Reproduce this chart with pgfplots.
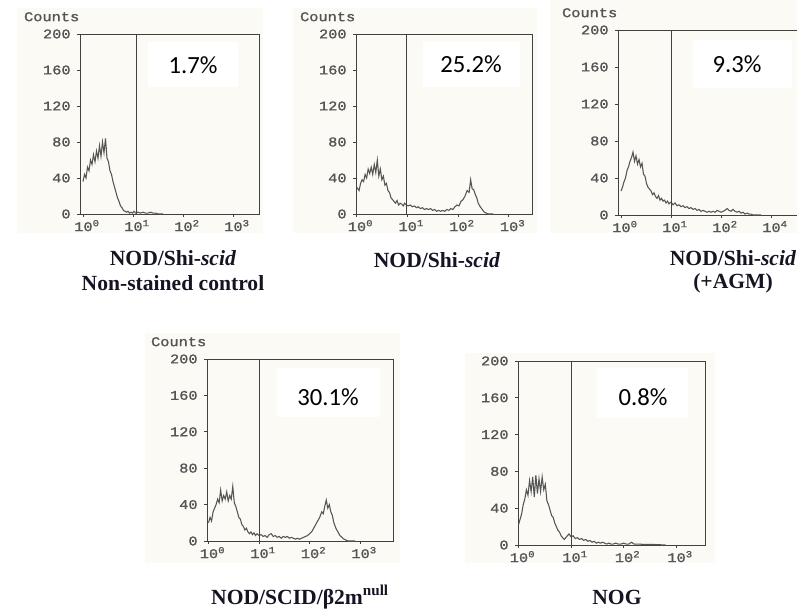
\documentclass[border=0pt]{standalone}
\usepackage{pgfplots}
\pgfplotsset{compat=1.18}
\usepackage{fontspec}
\setmainfont{Liberation Serif}
\newfontfamily\tickfont[FakeStretch=1.15, FakeBold=1.3]{Liberation Mono}
\newfontfamily\pctfont{Carlito}
\definecolor{bgcream}{RGB}{251,250,245}
\definecolor{axisgray}{RGB}{65,65,65}
\definecolor{labelgray}{RGB}{85,85,85}
\definecolor{histgray}{RGB}{85,85,85}
\definecolor{capcol}{RGB}{20,20,35}
\pgfplotsset{
  hist/.style={
    scale only axis, anchor=south west, clip=false,
    ymin=0, ymax=200, ytick={0,40,80,120,160,200},
    yticklabels={0,40,80,120,160,200},
    xtick={0,1,2,3},
    xtick pos=left, ytick pos=left,
    tick align=outside, major tick length=2pt,
    axis line style={draw=axisgray, line width=0.6pt},
    tick style={draw=axisgray, line width=0.5pt},
    ticklabel style={font=\tickfont\fontsize{10}{10}\selectfont, text=labelgray},
    xticklabel style={xshift=3pt, yshift=1pt},
    yticklabel style={xshift=-1.5pt},
  },
  hline/.style={histgray, line width=0.8pt, no markers},
  gate/.style={axisgray, line width=0.6pt, no markers},
}
\newcommand{\counts}{\node[anchor=south east, font=\tickfont\fontsize{10}{10}\selectfont, text=labelgray] at (rel axis cs:0,1) [xshift=3pt, yshift=6pt] {Counts};}
\begin{document}
\begin{tikzpicture}
\path[use as bounding box] (0pt,0pt) rectangle (597.75pt,456.75pt);
% panel backgrounds
\fill[bgcream] (12.75pt,282pt) rectangle (197.25pt,450.75pt);
\fill[bgcream] (219.75pt,282pt) rectangle (402.75pt,450.75pt);
\fill[bgcream] (412.5pt,282pt) rectangle (597.75pt,456.75pt);
\fill[bgcream] (108.75pt,34.5pt) rectangle (300pt,207pt);
\fill[bgcream] (348.75pt,34.5pt) rectangle (536.25pt,192pt);

% ---------- Panel 1 ----------
\begin{axis}[hist, at={(60pt,296.25pt)}, width=134.25pt, height=135pt,
  xmin=-0.06, xmax=3.52,
  xticklabels={10\textsuperscript{0},10\textsuperscript{1},10\textsuperscript{2},10\textsuperscript{3}}]
\addplot[hline] coordinates {(0.00,36)(0.03,44)(0.06,40)(0.09,52)(0.12,48)(0.15,60)(0.18,55)(0.21,66)(0.24,58)(0.27,70)(0.30,62)(0.33,76)(0.36,64)(0.39,80)(0.42,68)(0.45,84)(0.48,62)(0.51,58)(0.54,48)(0.57,44)(0.60,36)(0.63,30)(0.66,24)(0.69,18)(0.72,14)(0.75,9)(0.78,7)(0.81,4)(0.84,3)(0.87,2)(0.90,3)(0.93,1)(0.96,2)(0.99,1)(1.02,3)(1.05,1)(1.10,2)(1.15,1)(1.20,2)(1.25,1)(1.30,1)(1.35,2)(1.40,1)(1.45,1)(1.50,0)(1.60,0)};
\addplot[gate] coordinates {(1.06,0)(1.06,200)};
\counts
\end{axis}

% ---------- Panel 2 ----------
\begin{axis}[hist, at={(267pt,296.25pt)}, width=132pt, height=135pt,
  xmin=-0.01, xmax=3.46,
  xticklabels={10\textsuperscript{0},10\textsuperscript{1},10\textsuperscript{2},10\textsuperscript{3}}]
\addplot[hline] coordinates {(0.00,30)(0.05,26)(0.08,34)(0.11,38)(0.14,36)(0.17,44)(0.20,40)(0.23,50)(0.26,45)(0.29,52)(0.32,44)(0.35,55)(0.38,46)(0.41,60)(0.44,42)(0.47,50)(0.50,38)(0.53,42)(0.56,32)(0.59,34)(0.62,26)(0.65,24)(0.68,18)(0.71,16)(0.74,14)(0.77,12)(0.80,15)(0.83,10)(0.86,12)(0.89,11)(0.92,9)(0.95,12)(0.98,10)(1.02,9)(1.06,10)(1.10,8)(1.14,9)(1.18,7)(1.22,8)(1.26,6)(1.30,7)(1.34,5)(1.38,6)(1.42,5)(1.46,6)(1.50,4)(1.54,5)(1.58,3)(1.62,4)(1.66,3)(1.70,4)(1.74,3)(1.78,5)(1.82,4)(1.86,6)(1.90,5)(1.94,8)(1.98,10)(2.02,9)(2.06,14)(2.10,16)(2.14,20)(2.18,26)(2.22,24)(2.25,38)(2.28,28)(2.31,27)(2.34,22)(2.37,18)(2.40,12)(2.44,8)(2.48,5)(2.52,2)(2.56,1)(2.60,0)(2.70,0)};
\addplot[gate] coordinates {(0.98,0)(0.98,200)};
\counts
\end{axis}

% ---------- Panel 3 ----------
\begin{axis}[hist, at={(463.5pt,295.5pt)}, width=137.25pt, height=138.75pt,
  xmin=-0.06, xmax=3.6,
  xticklabels={10\textsuperscript{0},10\textsuperscript{1},10\textsuperscript{2},10\textsuperscript{4}}]
\addplot[hline] coordinates {(0.00,26)(0.03,30)(0.06,36)(0.09,40)(0.12,48)(0.15,52)(0.18,58)(0.21,62)(0.24,68)(0.27,58)(0.30,64)(0.33,55)(0.36,60)(0.39,52)(0.42,56)(0.45,44)(0.48,42)(0.51,34)(0.54,30)(0.57,28)(0.60,26)(0.63,22)(0.66,24)(0.69,20)(0.72,18)(0.75,21)(0.78,16)(0.81,18)(0.84,15)(0.87,16)(0.90,13)(0.93,15)(0.96,12)(1.00,14)(1.04,11)(1.08,13)(1.12,10)(1.16,11)(1.20,9)(1.24,10)(1.28,8)(1.32,9)(1.36,7)(1.40,8)(1.44,6)(1.48,7)(1.52,5)(1.56,6)(1.60,4)(1.64,5)(1.68,4)(1.72,3)(1.76,4)(1.80,3)(1.84,4)(1.88,3)(1.92,5)(1.96,4)(2.00,3)(2.04,4)(2.08,5)(2.12,7)(2.16,5)(2.20,4)(2.24,6)(2.28,4)(2.32,3)(2.36,4)(2.40,2)(2.44,3)(2.48,1)(2.52,2)(2.56,1)(2.60,1)(2.64,0)(2.80,0)};
\addplot[gate] coordinates {(1.0,0)(1.0,200)};
\counts
\end{axis}

% ---------- Panel 4 ----------
\begin{axis}[hist, at={(155.25pt,51pt)}, width=139.5pt, height=136.5pt,
  xmin=-0.03, xmax=3.65,
  xticklabels={10\textsuperscript{0},10\textsuperscript{1},10\textsuperscript{2},10\textsuperscript{3}}]
\addplot[hline] coordinates {(0.00,20)(0.03,26)(0.06,22)(0.09,32)(0.12,36)(0.15,40)(0.18,46)(0.21,42)(0.24,56)(0.27,44)(0.30,50)(0.33,46)(0.36,54)(0.39,44)(0.42,50)(0.45,46)(0.48,60)(0.51,42)(0.54,38)(0.57,32)(0.60,26)(0.63,24)(0.66,18)(0.69,16)(0.72,12)(0.75,14)(0.78,10)(0.81,8)(0.84,10)(0.87,7)(0.90,9)(0.93,6)(0.96,8)(1.00,6)(1.04,7)(1.08,5)(1.12,6)(1.16,4)(1.20,7)(1.24,8)(1.28,5)(1.32,6)(1.36,4)(1.40,5)(1.44,3)(1.48,5)(1.52,4)(1.56,5)(1.60,3)(1.64,4)(1.68,3)(1.72,2)(1.76,3)(1.80,2)(1.84,3)(1.88,4)(1.92,5)(1.96,6)(2.00,8)(2.04,10)(2.08,14)(2.12,18)(2.16,22)(2.20,26)(2.24,32)(2.27,30)(2.30,38)(2.33,45)(2.36,36)(2.39,40)(2.42,32)(2.45,28)(2.48,20)(2.52,14)(2.56,10)(2.60,6)(2.64,4)(2.68,2)(2.72,1)(2.76,0)(2.90,0)};
\addplot[gate] coordinates {(1.0,0)(1.0,200)};
\counts
\end{axis}

% ---------- Panel 5 ----------
\begin{axis}[hist, at={(388.5pt,48pt)}, width=140.25pt, height=138pt,
  xmin=-0.01, xmax=3.55,
  xticklabels={10\textsuperscript{0},10\textsuperscript{1},10\textsuperscript{2},10\textsuperscript{3}}]
\addplot[hline] coordinates {(0.00,22)(0.03,28)(0.06,34)(0.09,44)(0.12,50)(0.15,60)(0.18,54)(0.21,70)(0.24,58)(0.27,74)(0.30,52)(0.33,76)(0.36,56)(0.39,72)(0.42,58)(0.45,74)(0.48,60)(0.51,66)(0.54,48)(0.57,44)(0.60,38)(0.63,32)(0.66,30)(0.69,24)(0.72,20)(0.75,16)(0.78,14)(0.81,10)(0.84,8)(0.87,6)(0.90,8)(0.93,10)(0.96,12)(1.00,9)(1.04,10)(1.08,7)(1.12,8)(1.16,6)(1.20,7)(1.24,5)(1.28,6)(1.32,4)(1.36,5)(1.40,3)(1.44,4)(1.48,2)(1.52,3)(1.56,2)(1.60,3)(1.64,2)(1.68,1)(1.72,2)(1.76,1)(1.80,1)(1.85,2)(1.90,1)(1.95,1)(2.00,2)(2.05,1)(2.10,1)(2.15,3)(2.20,1)(2.25,1)(2.30,1)(2.40,0.5)(2.60,0.5)(2.80,0)};
\addplot[gate] coordinates {(1.0,0)(1.0,200)};
\end{axis}

% percentage boxes
\node[fill=white, minimum width=67.5pt, minimum height=33.75pt, inner sep=0pt] at (144.75pt,408.4pt) {};
\node[fill=white, minimum width=72.75pt, minimum height=33.75pt, inner sep=0pt] at (353.6pt,408.4pt) {};
\node[fill=white, minimum width=74.25pt, minimum height=36pt, inner sep=0pt] at (556.9pt,408.75pt) {};
\node[fill=white, minimum width=77.25pt, minimum height=36.75pt, inner sep=0pt] at (246.4pt,162.4pt) {};
\node[fill=white, minimum width=68.25pt, minimum height=37.5pt, inner sep=0pt] at (481.9pt,162pt) {};
\begin{scope}[every node/.style={font=\pctfont\fontsize{18.5}{18.5}\selectfont, inner sep=0pt}]
\node at (144.75pt,408pt) {1.7\%};
\node at (353.25pt,408.75pt) {25.2\%};
\node at (552.75pt,408.75pt) {9.3\%};
\node at (246pt,159pt) {30.1\%};
\node at (482.25pt,159pt) {0.8\%};
\end{scope}

% captions
\begin{scope}[every node/.style={font=\bfseries\fontsize{16.2}{16.2}\selectfont, text=capcol, inner sep=0pt}]
\node at (129.75pt,263.25pt) {NOD/Shi-\textit{scid}};
\node at (129.75pt,244.5pt) {Non-stained control};
\node at (327.75pt,261.75pt) {NOD/Shi-\textit{scid}};
\node at (549.75pt,263.25pt) {NOD/Shi-\textit{scid}};
\node at (549.75pt,244.5pt) {(+AGM)};
\node at (225pt,9pt) {NOD/SCID/β2m\textsuperscript{null}};
\node at (462.75pt,9pt) {NOG};
\end{scope}
\end{tikzpicture}
\end{document}
